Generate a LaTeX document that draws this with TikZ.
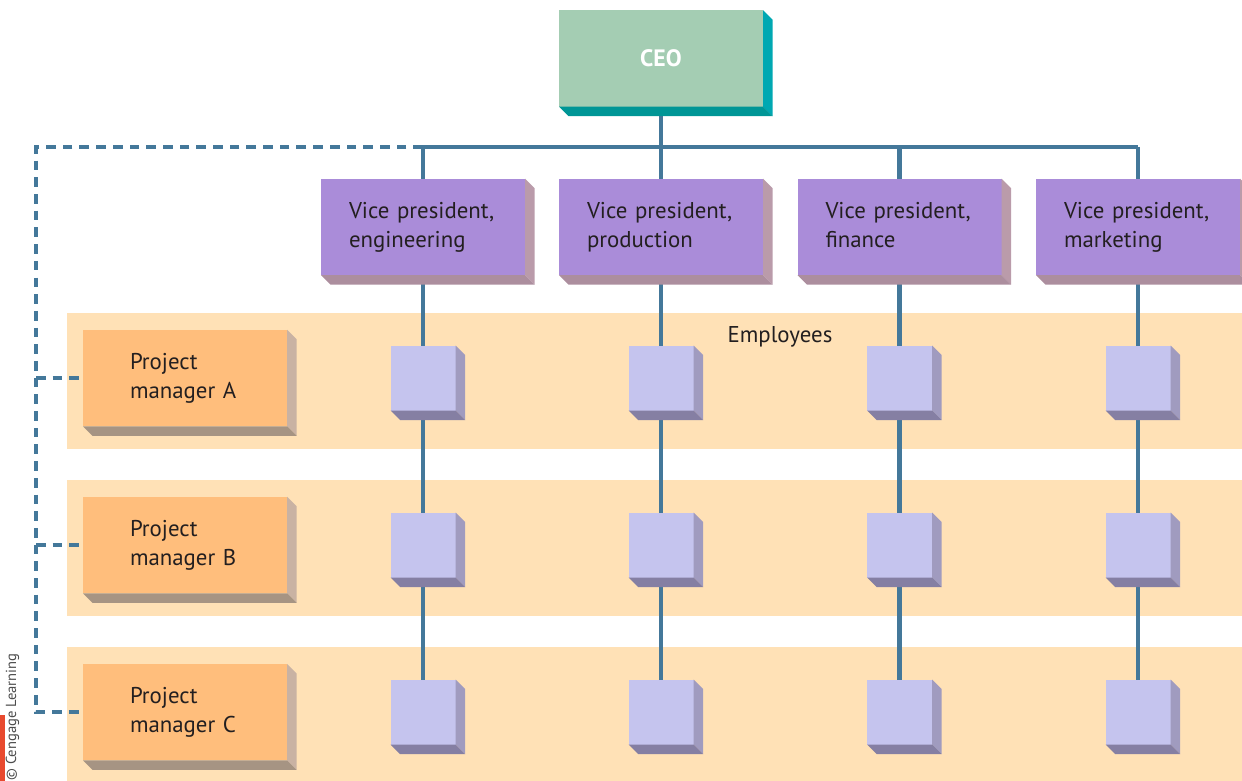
\documentclass[tikz,border=0pt]{standalone}
\usepackage{fontspec}
\setmainfont{PT Sans}
\usetikzlibrary{positioning}
\definecolor{ceofront}{HTML}{A4CDB3}
\definecolor{ceoright}{HTML}{00A8B2}
\definecolor{ceobottom}{HTML}{009696}
\definecolor{vpfront}{HTML}{AA8CD9}
\definecolor{vpright}{HTML}{BA9BAA}
\definecolor{vpbottom}{HTML}{AC8E9E}
\definecolor{empfront}{HTML}{C5C4EE}
\definecolor{empright}{HTML}{A09BBF}
\definecolor{empbottom}{HTML}{857FA3}
\definecolor{pmfront}{HTML}{FFBE7C}
\definecolor{pmright}{HTML}{C9B2A3}
\definecolor{pmbottom}{HTML}{A69483}
\definecolor{bandfill}{HTML}{FFE1B6}
\definecolor{linkblue}{HTML}{44789A}
\definecolor{textdark}{HTML}{231F20}
\definecolor{cengagered}{HTML}{E84A2F}
\pgfdeclarelayer{bands}
\pgfdeclarelayer{links}
\pgfsetlayers{bands,links,main}
\tikzset{box/.style={inner sep=0, outer sep=0, minimum width=4.08cm, minimum height=1.93cm, text=textdark, font=\fontsize{13}{16.4}\selectfont}}
\tikzset{vpbox/.style={box, fill=vpfront, text width=2.96cm, align=left, execute at end node={\vphantom{gp}}}}
\tikzset{pmbox/.style={box, fill=pmfront, text width=2.2cm, align=left, execute at end node={\vphantom{gp}}}}
\tikzset{empbox/.style={inner sep=0, outer sep=0, minimum size=1.3cm, fill=empfront}}
\tikzset{band/.style={fill=bandfill, inner sep=0, minimum width=23.5cm, minimum height=2.72cm}}
\tikzset{link/.style={draw=linkblue, line width=2.3pt}}
\tikzset{dlink/.style={link, dash pattern=on 5.5pt off 4pt}}
\newcommand{\boxsides}[3]{%
	\fill[#2] (#1.north east) -- ++(0.19,-0.19) -- ([shift={(0.19,-0.19)}]#1.south east) -- (#1.south east) -- cycle;
	\fill[#3] (#1.south west) -- ++(0.19,-0.19) -- ([shift={(0.19,-0.19)}]#1.south east) -- (#1.south east) -- cycle;}

\begin{document}
\begin{tikzpicture}
				\useasboundingbox (0,0) rectangle (24.84,-15.62);

				\node[box, fill=ceofront, text=white, font=\fontsize{13.5}{16}\selectfont\bfseries] (ceo) at (13.22,-1.17) {CEO};
				\boxsides{ceo}{ceoright}{ceobottom}

				\node[vpbox] (vpE) at (8.46,-4.54) {Vice~president,\\engineering};
				\node[vpbox] (vpP) at (13.22,-4.54) {Vice~president,\\production};
				\node[vpbox] (vpF) at (17.99,-4.54) {Vice~president,\\finance};
				\node[vpbox] (vpM) at (22.76,-4.54) {Vice~president,\\marketing};
				\foreach \v in {vpE,vpP,vpF,vpM} {\boxsides{\v}{vpright}{vpbottom}}

				\begin{pgfonlayer}{bands}
				\node[band] (bandA) at (13.09,-7.62) {};
				\node[band] (bandB) at (13.09,-10.96) {};
				\node[band] (bandC) at (13.09,-14.3) {};
				\end{pgfonlayer}
				\node[text=textdark, font=\fontsize{13}{16}\selectfont] (emp) at (15.6,-6.74) {Employees};

				\node[pmbox] (pmA) at (3.7,-7.56) {Project\\manager~A};
				\node[pmbox] (pmB) at (3.7,-10.9) {Project\\manager~B};
				\node[pmbox] (pmC) at (3.7,-14.24) {Project\\manager~C};
				\foreach \p in {pmA,pmB,pmC} {\boxsides{\p}{pmright}{pmbottom}}

				\foreach \v in {E,P,F,M} {
					\node[empbox] (\v A) at (vp\v |- pmA) {};
					\node[empbox] (\v B) at (vp\v |- pmB) {};
					\node[empbox] (\v C) at (vp\v |- pmC) {};
					\boxsides{\v A}{empright}{empbottom}
					\boxsides{\v B}{empright}{empbottom}
					\boxsides{\v C}{empright}{empbottom}
				}

				\coordinate (bus) at (0,-2.94);
				\coordinate (left) at (0.72,-2.94);
				\begin{pgfonlayer}{links}
				\draw[link] (ceo.center) -- (ceo |- bus);
				\draw[link] (vpE |- bus) -- (vpM |- bus);
				\foreach \v in {E,P,F,M} {
					\draw[link] (vp\v |- bus) -- (vp\v.center) -- (\v A.center) -- (\v B.center) -- (\v C.center);
				}
				\draw[dlink] (vpE |- bus) -- (left) -- (left |- pmC) -- (pmC.west);
				\draw[dlink] (left |- pmA) -- (pmA.west);
				\draw[dlink] (left |- pmB) -- (pmB.west);
				\end{pgfonlayer}

				\node[fill=cengagered, inner sep=0, minimum width=0.1cm, minimum height=1.32cm] (redbar) at (0.05,-14.96) {};
				\node[rotate=90, text=black!70, font=\fontsize{8.3}{9}\selectfont] (copy) at (0.25,-14.34) {\textcopyright{} Cengage Learning};
			\end{tikzpicture}
\end{document}
